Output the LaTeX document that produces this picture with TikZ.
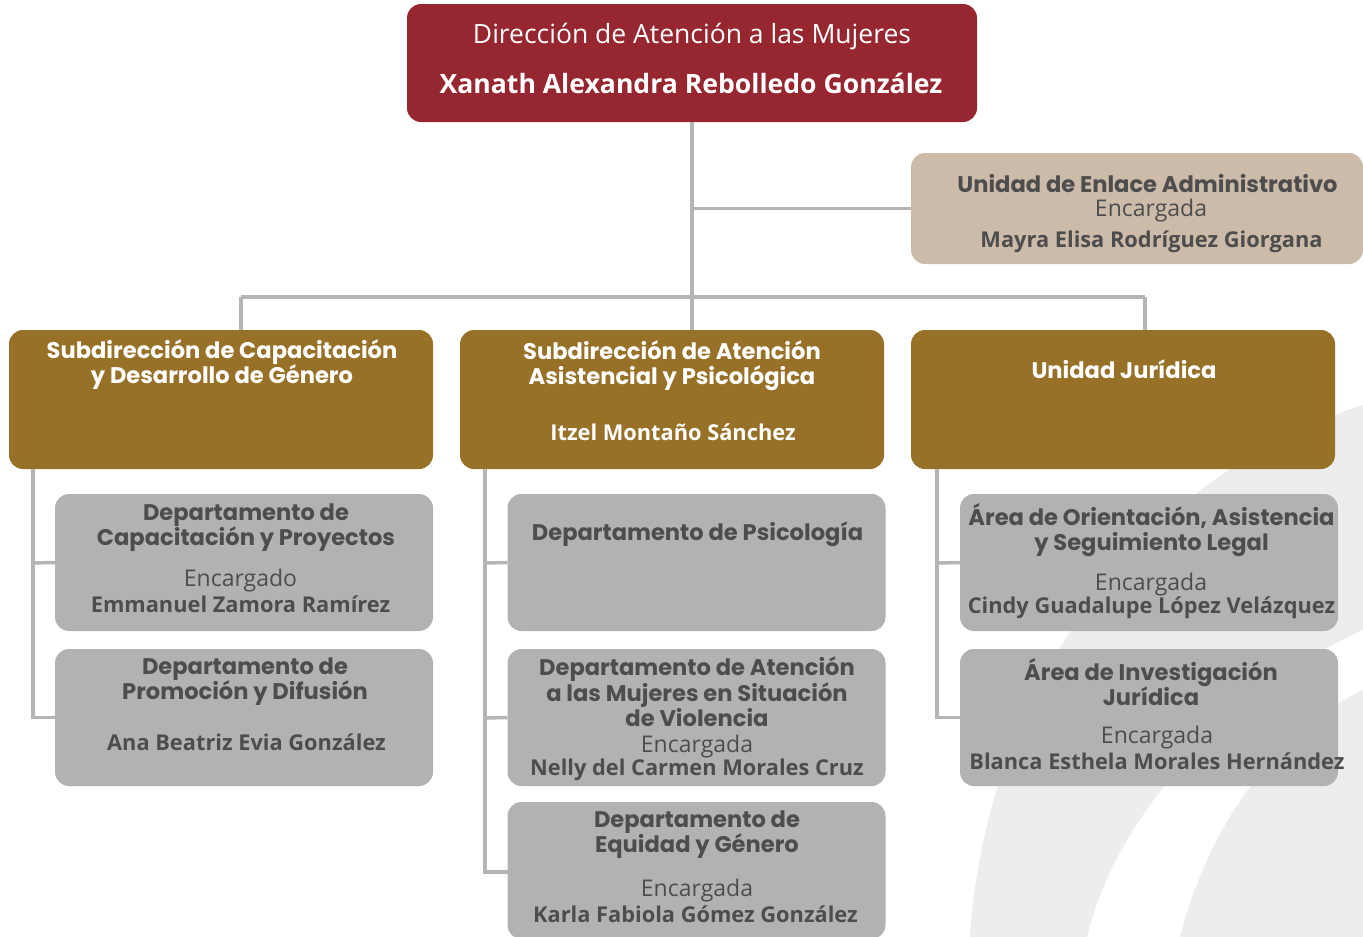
\documentclass[tikz,border=0pt]{standalone}
\usepackage{fontspec}
\setmainfont{Open Sans}
\newfontfamily\titlefont{Poppins}
\usetikzlibrary{positioning}

\definecolor{dirred}{HTML}{962630}
\definecolor{admbeige}{HTML}{CDBBAA}
\definecolor{subgold}{HTML}{987128}
\definecolor{deptgrey}{HTML}{B1B3B3}
\definecolor{linegrey}{HTML}{B5B5B5}
\definecolor{txtgrey}{HTML}{4D4D4D}
\definecolor{markgrey}{HTML}{EDEDED}

\newcommand{\titlef}{\titlefont\bfseries\fontsize{22.6}{25}\selectfont}
\newcommand{\titlefs}{\titlefont\bfseries\fontsize{22.6}{23}\selectfont}
\newcommand{\namef}{\bfseries\fontsize{21.8}{24}\selectfont}
\newcommand{\encf}{\fontsize{23}{24}\selectfont}

\tikzset{
    box/.style={
           rectangle,
           rounded corners=14pt,
           inner sep=0pt, outer sep=0pt,
           },
    dirbox/.style={box, fill=dirred, minimum width=570pt, minimum height=118pt},
    admbox/.style={box, fill=admbeige, minimum width=452pt, minimum height=111pt},
    subbox/.style={box, fill=subgold, minimum width=424pt, minimum height=139pt},
    deptbox/.style={box, fill=deptgrey, minimum width=378pt, minimum height=137pt},
    wtxt/.style={text=white, align=center, inner sep=0pt},
    gtxt/.style={text=txtgrey, align=center, inner sep=0pt},
    conn/.style={draw=linegrey, line width=3.5pt},
}

\begin{document}
\begin{tikzpicture}[x=1pt, y=-1pt]
  \useasboundingbox (0,0) rectangle (1363,937);
  \clip (0,0) rectangle (1363,937);

  % watermark swooshes in the background
  \fill[markgrey] (970,937) .. controls (985,700) and (1130,480) .. (1363,405)
        -- (1363,630) .. controls (1250,680) and (1120,800) .. (1087,937) -- cycle;
  \fill[markgrey] (1180,937) .. controls (1210,820) and (1280,730) .. (1363,690)
        -- (1363,937) -- cycle;

  % Direccion
  \node[dirbox] (DIR) at (692,63) {};
  \node[wtxt, font=\fontsize{26.5}{28}\selectfont] (DIRt) at (692,37) {Dirección de Atención a las Mujeres};
  \node[wtxt, font=\bfseries\fontsize{26.6}{28}\selectfont] (DIRn) at (691,83) {Xanath Alexandra Rebolledo González};

  % Unidad de Enlace Administrativo
  \node[admbox] (ADM) at (1137,208.5) {};
  \node[gtxt, font=\titlef] (ADMt) at (1147.5,184) {Unidad de Enlace Administrativo};
  \node[gtxt, font=\encf] (ADMe) at (1151,211) {Encargada};
  \node[gtxt, font=\namef] (ADMn) at (1151.5,242) {Mayra Elisa Rodríguez Giorgana};

  % Subdirecciones
  \node[subbox] (SUBCAP) at (221,399.5) {};
  \node[wtxt, font=\titlef] (SUBCAPt) at (222,365) {Subdirección de Capacitación\\y Desarrollo de Género};

  \node[subbox] (SUBATN) at (672,399.5) {};
  \node[wtxt, font=\titlef] (SUBATNt) at (672,366) {Subdirección de Atención\\Asistencial y Psicológica};
  \node[wtxt, font=\namef] (SUBATNn) at (673,432) {Itzel Montaño Sánchez};

  \node[subbox] (UJUR) at (1123,399.5) {};
  \node[wtxt, font=\titlef] (UJURt) at (1124,369) {Unidad Jurídica};

  % Departamentos (columna izquierda)
  \node[deptbox] (DCAP) at (244,562.5) {};
  \node[gtxt, font=\titlef] (DCAPt) at (246,527.5) {Departamento de\\Capacitación y Proyectos};
  \node[gtxt, font=\encf] (DCAPe) at (240.5,581) {Encargado};
  \node[gtxt, font=\namef] (DCAPn) at (240.5,604) {Emmanuel Zamora Ramírez};

  \node[deptbox] (DPRO) at (244,717.5) {};
  \node[gtxt, font=\titlef] (DPROt) at (245,681.5) {Departamento de\\Promoción y Difusión};
  \node[gtxt, font=\namef] (DPROn) at (246.5,742) {Ana Beatriz Evia González};

  % Departamentos (columna central)
  \node[deptbox] (DPSI) at (696.5,562.5) {};
  \node[gtxt, font=\titlef] (DPSIt) at (697.5,534) {Departamento de Psicología};

  \node[deptbox] (DVIO) at (696.5,717.5) {};
  \node[gtxt, font=\titlefs] (DVIOt) at (697,692) {Departamento de Atención\\a las Mujeres en Situación\\de Violencia};
  \node[gtxt, font=\encf] (DVIOe) at (697,747) {Encargada};
  \node[gtxt, font=\namef] (DVIOn) at (697,770) {Nelly del Carmen Morales Cruz};

  \node[deptbox] (DEQU) at (696.5,870.5) {};
  \node[gtxt, font=\titlef] (DEQUt) at (697,834.5) {Departamento de\\Equidad y Género};
  \node[gtxt, font=\encf] (DEQUe) at (697,891) {Encargada};
  \node[gtxt, font=\namef] (DEQUn) at (695.5,914) {Karla Fabiola Gómez González};

  % Areas (columna derecha)
  \node[deptbox] (AORI) at (1149,562.5) {};
  \node[gtxt, font=\titlef] (AORIt) at (1151.5,530) {Área de Orientación, Asistencia\\y Seguimiento Legal};
  \node[gtxt, font=\encf] (AORIe) at (1151,585) {Encargada};
  \node[gtxt, font=\namef] (AORIn) at (1151.5,608) {Cindy Guadalupe López Velázquez};

  \node[deptbox] (AINV) at (1149,717.5) {};
  \node[gtxt, font=\titlef] (AINVt) at (1151,682.5) {Área de Investigación\\Jurídica};
  \node[gtxt, font=\encf] (AINVe) at (1157,738) {Encargada};
  \node[gtxt, font=\namef] (AINVn) at (1157,761) {Blanca Esthela Morales Hernández};

  % connectors
  \coordinate (BUS) at (692,297);
  \draw[conn] (DIR.south) -- (BUS) -- (BUS |- SUBATN.north);
  \draw[conn] (DIR.south |- ADM.west) -- (ADM.west);
  \draw[conn] (241,297) -- (1145,297);
  \draw[conn] (241,297) -- (241,330);
  \draw[conn] (1145,297) -- (1145,330);

  \draw[conn] (33,469) |- (DPRO.west);
  \draw[conn] (33,563) -- (DCAP.west);

  \draw[conn] (485,469) |- (DEQU.west |- 0,872);
  \draw[conn] (485,563) -- (DPSI.west);
  \draw[conn] (485,718) -- (DVIO.west);

  \draw[conn] (937,469) |- (AINV.west);
  \draw[conn] (937,563) -- (AORI.west);
\end{tikzpicture}
\end{document}
